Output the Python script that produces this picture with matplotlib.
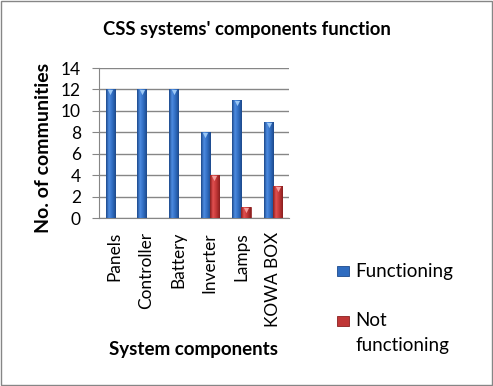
import matplotlib.pyplot as plt
import numpy as np
from matplotlib.patches import Rectangle
from matplotlib.colors import LinearSegmentedColormap
from matplotlib.transforms import offset_copy

plt.rcParams['font.family'] = ['Lato', 'DejaVu Sans']

components = ['Panels', 'Controller', 'Battery', 'Inverter', 'Lamps', 'KOWA BOX']
functioning = [12, 12, 12, 8, 11, 9]
not_functioning = [0, 0, 0, 4, 1, 3]

blue_cols = ['#1d4a8c', '#4d8be0', '#2f6cc0', '#1d4a8c']
red_cols = ['#8a1f1f', '#e25050', '#c03636', '#8a1f1f']

fig = plt.figure(figsize=(4.93, 3.86), dpi=100)
ax = fig.add_axes([0.2008, 0.4352, 0.3854, 0.3886])

x = np.arange(len(components))
w = 0.29
b1 = ax.bar(x - w / 2, functioning, w, color='#2f6cc0', edgecolor='#1d4a8c', linewidth=0.5, zorder=3)
b2 = ax.bar(x + w / 2, not_functioning, w, color='#c03636', edgecolor='#8a1f1f', linewidth=0.5, zorder=3)

# horizontal shading on the bars, like the Excel gradient
grad = np.linspace(0, 1, 40)[None, :]
for bars, cols in [(b1, blue_cols), (b2, red_cols)]:
    cm = LinearSegmentedColormap.from_list('g', list(zip([0, 0.3, 0.65, 1], cols)))
    for p in bars:
        if p.get_height() <= 0:
            continue
        x0, y0 = p.get_x(), p.get_y()
        im = ax.imshow(grad, cmap=cm, aspect='auto', vmin=0, vmax=1,
                       extent=(x0, x0 + p.get_width(), y0, y0 + p.get_height()), zorder=3.5)
        im.set_clip_path(p)

# small bevel triangles at the top of each bar
tri = offset_copy(ax.transData, fig=fig, x=0, y=-2.2, units='points')
fx = [xi - w / 2 for xi, v in zip(x, functioning) if v > 0]
fy = [v for v in functioning if v > 0]
nx = [xi + w / 2 for xi, v in zip(x, not_functioning) if v > 0]
ny = [v for v in not_functioning if v > 0]
ax.scatter(fx, fy, marker='v', s=14, color='#9cc8f5', linewidths=0, transform=tri, zorder=4)
ax.scatter(nx, ny, marker='v', s=14, color='#f5a0a0', linewidths=0, transform=tri, zorder=4)

ax.set_xlim(-0.5, len(components) - 0.5)
ax.set_ylim(0, 14)
ax.set_yticks(range(0, 15, 2))
ax.grid(axis='y', color='#868686', linewidth=1, zorder=0)
ax.set_axisbelow(True)
for s in ['top', 'right']:
    ax.spines[s].set_visible(False)
ax.spines['left'].set_color('#868686')
ax.spines['bottom'].set_color('#868686')
ax.tick_params(axis='y', length=5, color='#868686', labelsize=12.5, pad=8)
ax.tick_params(axis='x', length=0, labelsize=12.4, pad=10)
ax.set_xticks(x)
ax.set_xticklabels(components, rotation=90)

ax.set_ylabel('No. of communities', fontsize=14, fontweight='bold')
ax.yaxis.set_label_coords(-0.245, 0.47)
fig.text(0.392, 1 - 349 / 386, 'System components', fontsize=13.5, fontweight='bold',
         ha='center', va='center')
fig.text(0.5, 1 - 30 / 386, "CSS systems' components function", fontsize=13.3,
         fontweight='bold', ha='center', va='center')

# legend on the right
for (yy, fc, ec) in [(271, '#2f6cc0', '#1d4a8c'), (321, '#c03636', '#8a1f1f')]:
    fig.patches.append(Rectangle((337 / 493, 1 - (yy + 5) / 386), 12 / 493, 10 / 386,
                                 transform=fig.transFigure, facecolor=fc, edgecolor=ec,
                                 linewidth=0.6))
fig.text(355 / 493, 1 - 271 / 386, 'Functioning', fontsize=13.5, va='center', ha='left')
fig.text(355 / 493, 1 - 320 / 386, 'Not', fontsize=13.5, va='center', ha='left')
fig.text(355 / 493, 1 - 345 / 386, 'functioning', fontsize=13.5, va='center', ha='left')

fig.patches.append(Rectangle((0.002, 0.002), 0.996, 0.996, transform=fig.transFigure,
                             fill=False, edgecolor='#868686', linewidth=1))

fig.savefig('out.png', dpi=100)
